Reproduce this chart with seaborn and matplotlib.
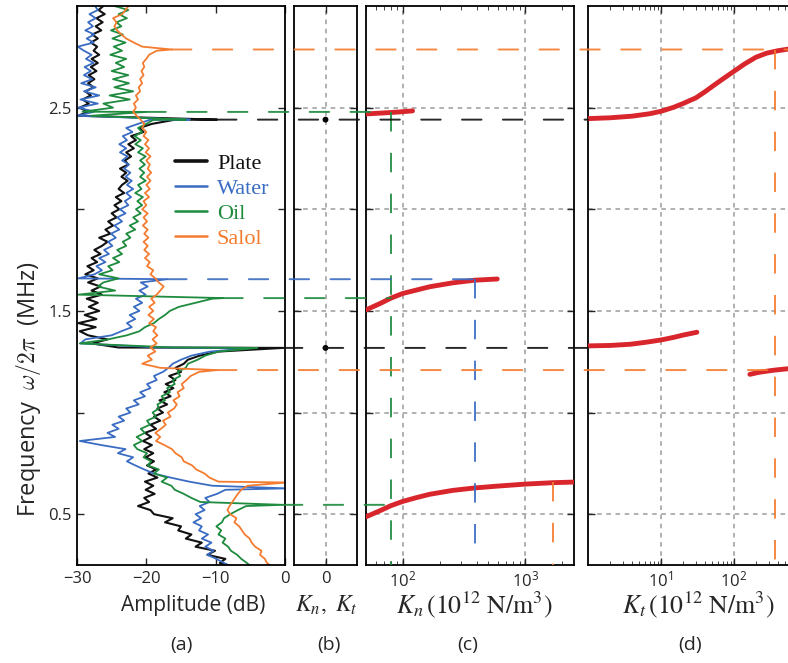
import numpy as np
import pandas as pd
import matplotlib
matplotlib.use("Agg")
import matplotlib.pyplot as plt
import seaborn as sns
from matplotlib.patches import ConnectionPatch
from matplotlib.ticker import FixedLocator, LogLocator, NullFormatter

# ---------------------------------------------------------------------------
# Transmission spectra, amplitude in dB on a 20 kHz frequency grid (MHz)
# ---------------------------------------------------------------------------
freq_mhz = np.round(np.linspace(0.24, 3.00, 139), 2)

plate_db = [
    -7.2, -9.4, -8.6, -11.2, -10.1, -12.9, -12.0, -14.3, -13.5, -15.4,
    -15.0, -17.3, -16.2, -18.9, -19.4, -21.2, -19.6, -20.3, -18.8, -20.1,
    -19.0, -20.2, -18.4, -19.7, -18.6, -19.9, -18.9, -20.1, -19.0, -20.3,
    -19.2, -20.5, -19.3, -20.2, -18.6, -19.4, -18.0, -18.9, -17.6, -18.4,
    -17.0, -18.1, -16.5, -17.4, -16.1, -17.2, -15.8, -16.7, -15.0, -15.8,
    -14.6, -14.0, -12.3, -9.6, -24.0, -27.8, -25.6, -28.4, -29.6, -27.3,
    -29.8, -27.2, -28.9, -26.8, -28.3, -27.0, -28.6, -26.4, -27.9, -26.6,
    -28.4, -27.0, -28.8, -27.6, -28.5, -27.1, -27.9, -26.6, -27.5, -26.4,
    -25.6, -26.8, -25.2, -25.9, -24.8, -25.5, -24.3, -25.0, -23.9, -24.6,
    -23.6, -24.4, -23.2, -24.0, -23.5, -22.7, -23.6, -22.9, -23.8, -22.6,
    -23.1, -22.2, -22.9, -21.8, -22.6, -21.5, -22.2, -20.4, -21.0, -19.2,
    -16.0, -29.8, -28.5, -29.6, -28.3, -29.2, -28.0, -28.8, -27.6, -28.4,
    -27.5, -28.3, -27.2, -28.0, -27.0, -27.9, -26.8, -27.6, -27.1, -28.0,
    -27.0, -27.8, -26.5, -27.3, -26.3, -27.2, -26.0, -26.9, -26.2,
]

water_db = [
    -7.6, -8.8, -9.9, -11.2, -10.3, -11.5, -10.6, -12.0, -11.1, -12.4,
    -12.0, -13.2, -12.1, -12.9, -11.6, -12.3, -10.9, -11.5, -9.8, -8.6,
    -10.5, -13.8, -16.5, -18.9, -20.3, -21.6, -22.8, -21.9, -24.1, -23.0,
    -26.5, -29.6, -24.5, -25.6, -24.0, -24.9, -23.2, -24.0, -22.3, -22.9,
    -21.1, -21.8, -20.2, -20.9, -19.4, -19.9, -18.5, -18.9, -17.6, -16.8,
    -16.2, -15.0, -13.5, -10.8, -18.0, -29.5, -28.8, -25.0, -23.6, -22.1,
    -22.8, -21.6, -22.4, -21.0, -21.8, -20.6, -21.5, -20.1, -21.0, -19.8,
    -20.8, -29.8, -27.5, -26.4, -27.2, -25.9, -26.8, -25.4, -26.1, -24.9,
    -25.5, -24.4, -25.1, -23.9, -24.6, -23.5, -24.2, -23.0, -23.8, -22.6,
    -23.1, -22.2, -22.9, -21.9, -22.8, -22.1, -23.0, -22.3, -23.2, -22.5,
    -23.5, -22.7, -23.8, -22.9, -23.9, -22.8, -23.4, -22.0, -22.9, -21.2,
    -19.5, -29.9, -27.5, -29.8, -27.0, -29.5, -26.8, -29.0, -27.3, -29.4,
    -27.8, -29.0, -28.0, -28.9, -27.6, -28.7, -27.9, -29.0, -29.9, -27.6,
    -28.6, -27.5, -28.8, -27.7, -28.4, -27.3, -28.2, -27.0, -27.4,
]

oil_db = [
    -4.8, -5.5, -6.3, -6.9, -7.8, -8.2, -9.0, -8.6, -9.6, -9.2,
    -9.9, -9.1, -8.8, -7.9, -6.8, -5.6, -12.2, -13.5, -14.6, -15.9,
    -16.4, -17.8, -17.0, -18.9, -18.2, -19.8, -19.3, -20.4, -19.9, -21.3,
    -21.8, -20.6, -21.4, -20.2, -20.8, -19.5, -19.9, -18.6, -19.1, -18.2,
    -18.4, -17.3, -17.8, -16.6, -17.0, -15.9, -16.2, -15.1, -15.5, -14.3,
    -14.0, -12.6, -11.5, -9.6, -16.0, -29.6, -25.5, -22.8, -21.0, -20.2,
    -18.9, -18.2, -17.3, -16.6, -15.3, -12.9, -10.5, -29.8, -24.5, -27.0,
    -26.2, -24.0, -26.8, -24.9, -25.5, -23.9, -24.8, -23.5, -24.2, -22.9,
    -23.4, -22.3, -22.9, -21.6, -22.4, -21.2, -21.9, -20.8, -21.5, -20.6,
    -21.3, -20.5, -21.6, -20.7, -21.2, -20.1, -20.9, -20.3, -21.0, -20.2,
    -20.9, -20.1, -21.2, -20.5, -21.6, -20.8, -21.7, -20.6, -21.2, -20.0,
    -19.0, -28.0, -29.2, -24.8, -26.2, -22.4, -25.3, -21.9, -24.6, -22.5,
    -24.8, -22.6, -25.0, -23.2, -24.4, -22.9, -25.2, -23.5, -24.7, -23.0,
    -24.9, -23.4, -25.1, -23.6, -24.3, -22.8, -24.0, -22.6, -24.6,
]

salol_db = [
    -1.8, -2.6, -2.9, -3.6, -3.4, -4.3, -4.8, -5.1, -5.8, -6.2,
    -6.6, -7.3, -7.0, -7.9, -8.3, -8.0, -7.6, -7.2, -6.8, -6.3,
    -5.4, -9.6, -10.9, -11.6, -12.8, -13.4, -14.6, -14.9, -15.8, -16.3,
    -17.4, -18.6, -18.0, -18.7, -17.9, -17.2, -17.6, -16.5, -16.9, -16.0,
    -15.6, -16.1, -15.2, -15.5, -14.6, -14.9, -14.2, -13.6, -12.4, -18.0,
    -20.6, -19.2, -19.8, -18.7, -19.4, -18.5, -19.1, -18.4, -19.0, -18.6,
    -19.6, -18.9, -19.7, -19.0, -19.6, -18.8, -19.3, -18.5, -18.0, -17.5,
    -18.2, -18.7, -19.4, -19.0, -19.9, -19.5, -20.2, -19.6, -20.3, -19.8,
    -20.4, -19.7, -20.3, -19.8, -20.5, -19.9, -20.4, -19.8, -20.6, -20.0,
    -20.4, -19.6, -20.2, -19.5, -20.0, -19.4, -19.9, -19.3, -19.8, -19.5,
    -20.0, -19.4, -20.1, -19.6, -20.2, -19.7, -20.4, -20.0, -20.6, -20.3,
    -20.8, -21.4, -21.9, -21.5, -21.8, -21.2, -21.5, -20.9, -21.1, -20.6,
    -20.9, -20.4, -20.7, -20.3, -20.5, -20.0, -19.6, -18.5, -20.6, -21.8,
    -22.9, -23.6, -24.2, -24.6, -24.3, -24.8, -23.5, -23.0, -22.6,
]

# Resonance peaks (frequency in MHz, peak amplitude in dB)
plate_peak_f = [1.318, 2.441]
plate_peak_db = [-0.3, -9.8]
water_peak_f = [0.627, 1.318, 1.656, 2.441]
water_peak_db = [0.2, -4.6, -17.0, -13.7]
oil_peak_f = [0.546, 1.318, 1.563, 2.441, 2.479]
oil_peak_db = [-0.3, -4.0, -8.9, -14.3, -20.0]
salol_peak_f = [0.656, 1.209, 2.786]
salol_peak_db = [0.3, -9.8, -16.3]

# Interface stiffness values that fit each resonance (10^12 N/m^3)
kn_water = 385.0
kn_oil = 80.0
kn_salol = 1690.0
kt_salol = 365.0

# Model branches: frequency vs. normal stiffness K_n
kn_branch1_k = [50, 70, 90, 120]
kn_branch1_f = [2.469, 2.474, 2.478, 2.484]
kn_branch2_k = [50, 65, 80, 100, 130, 166, 255, 385, 590]
kn_branch2_f = [1.505, 1.536, 1.563, 1.586, 1.603, 1.619, 1.638, 1.651, 1.657]
kn_branch3_k = [50, 65, 80, 100, 130, 166, 255, 385, 590, 1000, 1690, 2500]
kn_branch3_f = [0.487, 0.517, 0.542, 0.563, 0.582, 0.598, 0.617, 0.629, 0.638, 0.648, 0.655, 0.658]

# Model branches: frequency vs. tangential stiffness K_t
kt_branch1_k = [1, 2, 4, 7, 10, 15, 20, 30, 40, 55, 75, 100, 140, 200, 280, 400, 600, 900]
kt_branch1_f = [2.446, 2.450, 2.458, 2.470, 2.482, 2.502, 2.520, 2.548, 2.578, 2.614,
                2.648, 2.679, 2.715, 2.748, 2.768, 2.780, 2.790, 2.796]
kt_branch2_k = [1, 2, 3.8, 6, 10, 15, 20, 31]
kt_branch2_f = [1.328, 1.330, 1.336, 1.345, 1.357, 1.370, 1.381, 1.395]
kt_branch3_k = [165, 220, 300, 365, 530, 900]
kt_branch3_f = [1.188, 1.198, 1.205, 1.209, 1.215, 1.221]

series_names = ["Plate", "Water", "Oil", "Salol"]
amp_ticks = [-30, -20, -10, 0]
freq_ticks = [0.5, 1.0, 1.5, 2.0, 2.5]
freq_tick_labels = ["0.5", "", "1.5", "", "2.5"]

# ---------------------------------------------------------------------------
sns.set_style("ticks")
plt.rcParams["font.family"] = ["Open Sans", "DejaVu Sans"]
plt.rcParams["axes.linewidth"] = 1.3
plt.rcParams["xtick.major.width"] = 1.0
plt.rcParams["ytick.major.width"] = 1.0

colors = {"Plate": "#111111", "Water": "#3a6cc3", "Oil": "#1e8b3e", "Salol": "#f47c30"}
red = "#d9262d"
grid_kw = dict(color="#9b9b9b", linestyle=(0, (3, 3)), linewidth=1.1)
dash = (0, (10, 11))

fig = plt.figure(figsize=(7.88, 6.63), dpi=100)
W, H = 788.0, 663.0
bot, hgt = (H - 565) / H, (565 - 6) / H
ax_a = fig.add_axes([77 / W, bot, 208 / W, hgt])
ax_b = fig.add_axes([294 / W, bot, 63 / W, hgt])
ax_c = fig.add_axes([366 / W, bot, 208 / W, hgt])
ax_d = fig.add_axes([588 / W, bot, 219 / W, hgt])

f_lim = (0.25, 3.0)


def spectrum_frame(values, peak_f, peak_db):
    f = np.concatenate([freq_mhz, peak_f])
    a = np.concatenate([np.asarray(values, float), peak_db])
    order = np.argsort(f, kind="stable")
    return pd.DataFrame({"f": f[order], "amp": a[order]})


spectra = {
    "Plate": spectrum_frame(plate_db, plate_peak_f, plate_peak_db),
    "Water": spectrum_frame(water_db, water_peak_f, water_peak_db),
    "Oil": spectrum_frame(oil_db, oil_peak_f, oil_peak_db),
    "Salol": spectrum_frame(salol_db, salol_peak_f, salol_peak_db),
}
peaks = {
    "Plate": dict(zip(plate_peak_f, plate_peak_db)),
    "Water": dict(zip(water_peak_f, water_peak_db)),
    "Oil": dict(zip(oil_peak_f, oil_peak_db)),
    "Salol": dict(zip(salol_peak_f, salol_peak_db)),
}

# (a) spectra
for name in series_names:
    sns.lineplot(data=spectra[name], x="amp", y="f", orient="y", sort=False,
                 estimator=None, ax=ax_a, color=colors[name],
                 lw=1.5 if name == "Plate" else 1.3, label=name)
ax_a.set_xlim(-30, 0)
ax_a.set_ylim(*f_lim)
ax_a.set_xticks(amp_ticks)
ax_a.set_yticks(freq_ticks)
ax_a.set_yticklabels(freq_tick_labels)
ax_a.set_xlabel("")
ax_a.set_ylabel(r"Frequency  $\omega/2\pi$  (MHz)", fontsize=17, math_fontfamily="cm")
ax_a.yaxis.set_label_coords(-0.165, 0.315)

handles, labels = ax_a.get_legend_handles_labels()
leg = ax_a.legend(handles, labels, loc="upper left", bbox_to_anchor=(0.47, 0.737),
                  frameon=False, prop={"family": "Liberation Serif", "size": 16},
                  handlelength=1.45, handletextpad=0.45, labelspacing=0.2,
                  borderaxespad=0.0, borderpad=0.0)
for text, line, name in zip(leg.get_texts(), leg.get_lines(), labels):
    text.set_color(colors[name])
    line.set_linewidth(2.6 if name == "Plate" else 1.8)

# (b) zero-stiffness plate resonances
sns.scatterplot(x=[0.0] * len(plate_peak_f), y=plate_peak_f, ax=ax_b,
                color="black", s=18, edgecolor="none", zorder=5)
ax_b.set_xlim(-1, 1)
ax_b.set_ylim(*f_lim)
ax_b.set_xticks([0])
ax_b.set_yticks(freq_ticks)
ax_b.set_yticklabels([])
ax_b.grid(True, **grid_kw)

# (c) normal-stiffness branches
ax_c.set_xscale("log")
for kk, ff in [(kn_branch1_k, kn_branch1_f), (kn_branch2_k, kn_branch2_f),
               (kn_branch3_k, kn_branch3_f)]:
    sns.lineplot(x=kk, y=ff, sort=False, estimator=None, ax=ax_c, color=red,
                 lw=3.5, solid_capstyle="round", zorder=3)
ax_c.set_xlim(50, 2500)
ax_c.set_ylim(*f_lim)
ax_c.xaxis.set_major_locator(FixedLocator([100, 1000]))
ax_c.xaxis.set_minor_locator(LogLocator(base=10, subs=np.arange(2, 10)))
ax_c.xaxis.set_minor_formatter(NullFormatter())
ax_c.set_yticks(freq_ticks)
ax_c.set_yticklabels([])
ax_c.grid(True, which="major", **grid_kw)

# (d) tangential-stiffness branches
ax_d.set_xscale("log")
for kk, ff in [(kt_branch1_k, kt_branch1_f), (kt_branch2_k, kt_branch2_f),
               (kt_branch3_k, kt_branch3_f)]:
    sns.lineplot(x=kk, y=ff, sort=False, estimator=None, ax=ax_d, color=red,
                 lw=3.5, solid_capstyle="round", zorder=3)
ax_d.set_xlim(1, 1000)
ax_d.set_ylim(*f_lim)
ax_d.xaxis.set_major_locator(FixedLocator([10, 100]))
ax_d.xaxis.set_minor_locator(LogLocator(base=10, subs=np.arange(2, 10)))
ax_d.xaxis.set_minor_formatter(NullFormatter())
ax_d.set_yticks(freq_ticks)
ax_d.set_yticklabels([])
ax_d.grid(True, which="major", **grid_kw)

for ax in (ax_a, ax_b, ax_c, ax_d):
    ax.set_xlabel("")
    if ax is not ax_a:
        ax.set_ylabel("")
    ax.tick_params(which="both", direction="in", top=True, right=True,
                   labelsize=12, pad=4)
    ax.tick_params(which="major", length=5)
    ax.tick_params(which="minor", length=3)
    for sp in ax.spines.values():
        sp.set_color("black")

# vertical stiffness markers
for ax, k, f0, name in [(ax_c, kn_oil, 2.479, "Oil"), (ax_c, kn_water, 1.656, "Water"),
                        (ax_c, kn_salol, 0.656, "Salol"), (ax_d, kt_salol, 2.786, "Salol")]:
    ax.plot([k, k], [f0, f_lim[0]], color=colors[name], lw=1.4, ls=dash, alpha=0.9,
            zorder=4)

# horizontal resonance markers running across the panels
markers = [
    ("Salol", 2.786, ax_d, 1000.0),
    ("Oil", 2.479, ax_c, kn_oil),
    ("Plate", 2.441, ax_d, 1.0),
    ("Water", 1.656, ax_c, kn_water),
    ("Oil", 1.563, ax_c, kn_oil),
    ("Plate", 1.318, ax_d, 1.0),
    ("Salol", 1.209, ax_d, 1000.0),
    ("Salol", 0.656, ax_c, kn_salol),
    ("Water", 0.627, ax_c, kn_water),
    ("Oil", 0.546, ax_c, kn_oil),
]
for name, f0, ax_end, x_end in markers:
    con = ConnectionPatch(xyA=(peaks[name][f0], f0), coordsA="data", axesA=ax_a,
                          xyB=(x_end, f0), coordsB="data", axesB=ax_end,
                          color=colors[name], lw=1.4, linestyle=dash, alpha=0.9)
    fig.add_artist(con)

# axis titles and panel tags
fig.text(193 / W, 1 - 605 / H, "Amplitude (dB)", ha="center", va="center", fontsize=15)
fig.text(326 / W, 1 - 605 / H, r"$K_n,\ K_t$", ha="center", va="center",
         fontsize=17, math_fontfamily="stix")
fig.text(474 / W, 1 - 605 / H, r"$K_n\,(10^{12}\ \mathrm{N/m}^3)$", ha="center",
         va="center", fontsize=18.5, math_fontfamily="stix")
fig.text(698 / W, 1 - 605 / H, r"$K_t\,(10^{12}\ \mathrm{N/m}^3)$", ha="center",
         va="center", fontsize=18.5, math_fontfamily="stix")
for tag, xc in [("(a)", 181), ("(b)", 329), ("(c)", 468), ("(d)", 690)]:
    fig.text(xc / W, 1 - 645 / H, tag, ha="center", va="center", fontsize=14)

fig.savefig("out.png", dpi=100)
